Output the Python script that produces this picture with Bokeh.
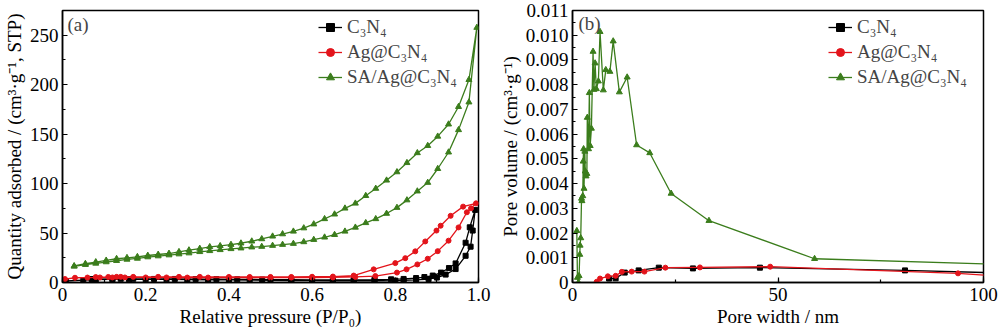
from bokeh.plotting import figure
from bokeh.layouts import row
from bokeh.models import (Range1d, SingleIntervalTicker, PrintfTickFormatter,
                          Legend, LegendItem, Label)
from bokeh.embed import file_html
from bokeh.resources import INLINE

# ---------------- (a) N2 isotherms ----------------
c3n4_ads_p = [0.008, 0.05, 0.08, 0.12, 0.16, 0.2, 0.25, 0.3, 0.35, 0.4, 0.45, 0.5, 0.55, 0.6,
              0.65, 0.7, 0.75, 0.8, 0.82, 0.85, 0.88, 0.90, 0.921, 0.945, 0.969, 0.981, 0.986, 0.992]
c3n4_ads_q = [1.5, 2.5, 3.0, 3.2, 3.3, 3.3, 3.2, 3.0, 2.8, 2.6, 2.4, 2.2, 2.0, 1.8,
              1.6, 1.6, 1.7, 1.9, 2.1, 2.6, 3.5, 5.0, 8.0, 13.6, 27.0, 36.2, 52.5, 73.4]
c3n4_des_p = [0.979, 0.969, 0.945, 0.929, 0.91, 0.89, 0.87, 0.85, 0.82, 0.79, 0.75, 0.7, 0.65,
              0.6, 0.55, 0.48, 0.42, 0.37, 0.32, 0.27, 0.22, 0.17, 0.14, 0.12, 0.07]
c3n4_des_q = [55.8, 40.2, 19.3, 14.6, 10.0, 7.0, 5.5, 4.5, 3.6, 3.2, 2.8, 2.6, 2.6,
              2.7, 2.8, 3.0, 3.2, 3.4, 3.5, 3.6, 3.6, 3.7, 3.7, 3.7, 3.5]

ag_ads_p = [0.006, 0.03, 0.06, 0.09, 0.12, 0.15, 0.2, 0.25, 0.3, 0.35, 0.4, 0.45, 0.5, 0.55,
            0.6, 0.65, 0.704, 0.752, 0.804, 0.827, 0.853, 0.878, 0.902, 0.928, 0.952, 0.972,
            0.982, 0.994]
ag_ads_q = [3.5, 4.8, 5.0, 5.1, 5.1, 5.1, 5.1, 5.1, 5.0, 5.0, 5.0, 5.0, 5.0, 5.0,
            5.0, 5.1, 5.6, 6.5, 10.0, 13.3, 18.3, 24.0, 31.7, 42.3, 55.7, 71.0, 75.0, 80.0]
ag_des_p = [0.963, 0.933, 0.909, 0.899, 0.872, 0.848, 0.824, 0.800, 0.748, 0.700, 0.65, 0.6,
            0.55, 0.5, 0.45, 0.4, 0.33, 0.28, 0.23, 0.17, 0.14, 0.13, 0.11, 0.08]
ag_des_q = [76.7, 67.4, 57.4, 52.5, 41.5, 31.5, 24.6, 19.6, 13.3, 7.0, 6.0, 5.8,
            5.6, 5.6, 5.6, 5.6, 5.7, 5.7, 5.7, 5.7, 5.7, 5.7, 5.6, 5.5]

sa_p = [0.028, 0.055, 0.080, 0.105, 0.130, 0.155, 0.180, 0.205, 0.230, 0.256, 0.280, 0.304,
        0.330, 0.354, 0.379, 0.405, 0.429, 0.455, 0.479, 0.505, 0.529, 0.555, 0.580, 0.604,
        0.630, 0.654, 0.679, 0.704, 0.729, 0.753, 0.779, 0.804, 0.828, 0.853, 0.878, 0.902,
        0.928, 0.952, 0.977, 0.996]
sa_ads_q = [16.3, 18, 19.3, 20.7, 22, 23.3, 24.3, 25.7, 26.7, 27.7, 28.7, 29.7, 31, 32, 33, 34,
            34.7, 35.7, 36.3, 37.3, 38.3, 39.3, 41, 43.3, 45.7, 48.3, 51.7, 55.7, 60.3, 64.3,
            69.7, 75.7, 83.3, 92.3, 101, 115, 131.7, 154.3, 182.3, 257.7]
sa_des_q = [16.7, 19, 20.7, 22.3, 24, 25, 26, 27.3, 28.3, 29.3, 31, 32.7, 34.3, 36, 37, 38.3,
            39.7, 41.7, 44, 46.7, 49, 51.7, 55, 59, 64.3, 69, 75, 80, 87.7, 95, 103.3, 111.7,
            121, 131, 138.3, 147.7, 160, 177.7, 205, 257.7]

# ---------------- (b) pore size distribution ----------------
c3n4_w = [8.9, 10.5, 12.7, 16.1, 21.0, 29.3, 45.6, 80.9, 130]
c3n4_v = [0.00016, 0.00017, 0.0004, 0.00049, 0.0006, 0.00057, 0.0006, 0.00049, 0.00027]
ag_w = [5.9, 6.7, 8.6, 10.5, 12.0, 14.4, 17.5, 22.6, 31.0, 48.1, 93.8, 110]
ag_v = [0.00003, 0.00016, 0.00025, 0.00027, 0.00043, 0.00044, 0.00044, 0.0006, 0.00061,
        0.00064, 0.00037, 0.00019]
sa_w = [1.05, 1.2, 1.45, 1.6, 1.77, 1.85, 2.0, 2.2, 2.3, 2.5, 2.6, 2.7, 2.8, 3.0, 3.1, 3.3, 3.5,
        3.6, 3.9, 4.1, 4.3, 4.6, 5.0, 5.2, 5.5, 5.8, 6.3, 6.7, 7.5, 8.1, 9.1, 9.9, 11.4, 13.3,
        15.6, 18.8, 24.0, 33.2, 58.9, 130]
sa_v = [0.00209, 0.0002, 0.0, 0.00027, 0.00113, 0.0015, 0.0018, 0.0034, 0.0033, 0.0035, 0.0049,
        0.0054, 0.0038, 0.0053, 0.0045, 0.0043, 0.0044, 0.00667, 0.0054, 0.00767, 0.00553,
        0.00623, 0.00934, 0.0078, 0.00887, 0.00783, 0.00814, 0.01014, 0.00778, 0.0086, 0.00853,
        0.00976, 0.0077, 0.0083, 0.00556, 0.00524, 0.0036, 0.0025, 0.00096, 0.00061]

labels = ["C\u2083N\u2084", "Ag@C\u2083N\u2084", "SA/Ag@C\u2083N\u2084"]
colors = ["#000000", "#e3141b", "#3b7d1c"]
markers = ["square", "circle", "triangle"]
msizes = [5, 5, 6]

FONT = "Liberation Serif"
FS = "19px"


def style(p, xint, yint, xfmt, yfmt):
    p.grid.visible = False
    p.outline_line_color = "black"
    p.outline_line_width = 1.5
    p.background_fill_color = "white"
    p.border_fill_color = "white"
    for ax in (p.xaxis[0], p.yaxis[0]):
        ax.major_tick_in = 5
        ax.major_tick_out = 0
        ax.minor_tick_in = 3
        ax.minor_tick_out = 0
        ax.axis_line_width = 1.5
        ax.major_tick_line_width = 1.2
        ax.minor_tick_line_width = 1.2
        ax.major_label_text_font = FONT
        ax.major_label_text_font_size = FS
        ax.major_label_text_color = "black"
        ax.axis_label_text_font = FONT
        ax.axis_label_text_font_size = FS
        ax.axis_label_text_font_style = "normal"
        ax.axis_label_text_color = "black"
        ax.axis_label_standoff = 2
    p.xaxis[0].ticker = SingleIntervalTicker(interval=xint, num_minor_ticks=2)
    p.yaxis[0].ticker = SingleIntervalTicker(interval=yint, num_minor_ticks=2)
    p.xaxis[0].formatter = PrintfTickFormatter(format=xfmt)
    p.yaxis[0].formatter = PrintfTickFormatter(format=yfmt)
    p.xaxis[0].major_label_overrides = {0: "0"}
    p.yaxis[0].major_label_overrides = {0: "0"}
    p.xaxis[0].major_label_standoff = 5
    p.yaxis[0].major_label_standoff = 4


def add_legend(p, items):
    leg = Legend(items=items, location=(256, 194), padding=0, margin=0, spacing=3,
                 glyph_width=24, glyph_height=20, label_standoff=5, label_height=20,
                 label_text_font=FONT, label_text_font_size=FS,
                 border_line_alpha=0, background_fill_alpha=0)
    p.add_layout(leg)


# ---- figure (a)
pa = figure(frame_width=416, frame_height=272, min_border_left=62, min_border_right=16,
            min_border_top=10, min_border_bottom=51,
            x_range=Range1d(0, 1), y_range=Range1d(0, 275),
            output_backend="svg", toolbar_location=None,
            x_axis_label="Relative pressure (P/P\u2080)",
            y_axis_label="Quantity adsorbed / (cm\u00b3\u00b7g\u207b\u00b9, STP)")
style(pa, 0.2, 50, "%.1f", "%d")

iso = [
    (c3n4_ads_p + c3n4_des_p, c3n4_ads_q + c3n4_des_q),
    (ag_ads_p + ag_des_p, ag_ads_q + ag_des_q),
    (sa_p + sa_p[::-1][1:], sa_ads_q + sa_des_q[::-1][1:]),
]
items_a = []
for (xs, ys), lab, col, mk, ms in zip(iso, labels, colors, markers, msizes):
    l = pa.line(xs, ys, line_color=col, line_width=1.3)
    s = pa.scatter(xs, ys, marker=mk, size=ms, fill_color=col, line_color=col)
    items_a.append(LegendItem(label=lab, renderers=[l, s]))
add_legend(pa, items_a)
pa.add_layout(Label(x=0.012, y=271, text="(a)", text_font=FONT, text_font_size=FS,
                    text_baseline="top", text_align="left"))

# ---- figure (b)
pb = figure(frame_width=411, frame_height=272, min_border_left=78, min_border_right=17,
            min_border_top=10, min_border_bottom=51,
            x_range=Range1d(0, 100), y_range=Range1d(0, 0.011),
            output_backend="svg", toolbar_location=None,
            x_axis_label="Pore width / nm",
            y_axis_label="Pore volume / (cm\u00b3\u00b7g\u207b\u00b9)")
style(pb, 50, 0.001, "%d", "%.3f")

psd = [(c3n4_w, c3n4_v), (ag_w, ag_v), (sa_w, sa_v)]
items_b = []
for (xs, ys), lab, col, mk, ms in zip(psd, labels, colors, markers, msizes):
    l = pb.line(xs, ys, line_color=col, line_width=1.3)
    s = pb.scatter(xs, ys, marker=mk, size=ms, fill_color=col, line_color=col)
    items_b.append(LegendItem(label=lab, renderers=[l, s]))
add_legend(pb, items_b)
pb.add_layout(Label(x=1.45, y=0.01088, text="(b)", text_font=FONT, text_font_size=FS,
                    text_baseline="top", text_align="left"))

layout = row(pa, pb)
open("out.html", "w").write(file_html(layout, INLINE))
